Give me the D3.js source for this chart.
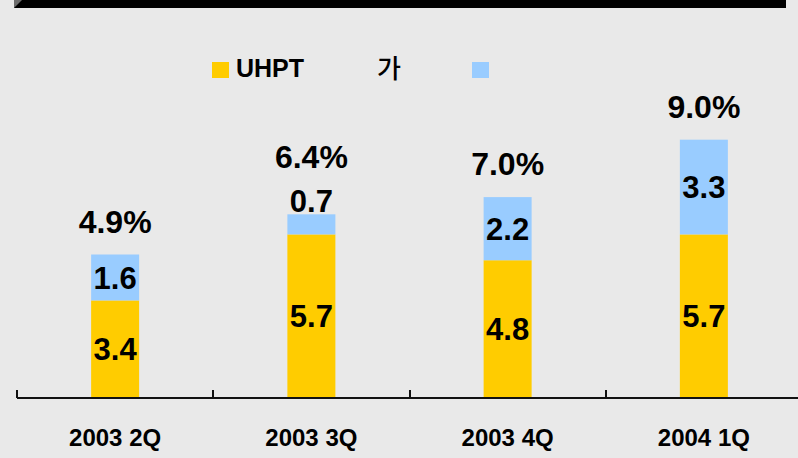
<!DOCTYPE html>
<html>
<head>
<meta charset="utf-8">
<script src="https://cdn.jsdelivr.net/npm/d3@7/dist/d3.min.js"></script>
<style>
  html, body { margin: 0; padding: 0; background: #e9e9e9; }
  svg { display: block; }
</style>
</head>
<body>
<script>
// ---- data ----
const categories = ["2003 2Q", "2003 3Q", "2003 4Q", "2004 1Q"];
const uhptValues = [3.4, 5.7, 4.8, 5.7];
const otherValues = [1.6, 0.7, 2.2, 3.3];
const totalLabels = ["4.9%", "6.4%", "7.0%", "9.0%"];
const seriesNames = ["UHPT", "가"];
const seriesColors = ["#ffcc00", "#99ccff"];

const W = 798, H = 458;
const svg = d3.select("body").append("svg").attr("width", W).attr("height", H);

svg.append("rect").attr("width", W).attr("height", H).attr("fill", "#e9e9e9");

// top black band
svg.append("rect").attr("x", 14).attr("y", 0).attr("width", 772).attr("height", 8).attr("fill", "#000");
svg.append("path").attr("d", "M14,0 L22,0 L14,8 Z").attr("fill", "#6e6e6e");

const baseY = 398;
const x = d3.scaleBand().domain(categories).range([17, 802]).padding(0);
const y = d3.scaleLinear().domain([0, 10]).range([baseY, 111]);
const barW = 48;

const stackData = categories.map((c, i) => ({ cat: c, uhpt: uhptValues[i], other: otherValues[i], total: totalLabels[i] }));
const stack = d3.stack().keys(["uhpt", "other"])(stackData);

const font = "'Liberation Sans', Arial, sans-serif";

// bars
stack.forEach((layer, li) => {
  svg.append("g").selectAll("rect").data(layer).join("rect")
    .attr("x", d => x(d.data.cat) + x.bandwidth() / 2 - barW / 2)
    .attr("y", d => y(d[1]))
    .attr("width", barW)
    .attr("height", d => y(d[0]) - y(d[1]))
    .attr("fill", seriesColors[li]);
});

// segment labels & totals
const fs = 31;
stackData.forEach((d, i) => {
  const cx = x(d.cat) + x.bandwidth() / 2;
  let topMost = y(d.uhpt + d.other);
  stack.forEach((layer, li) => {
    const s = layer[i];
    const y0 = y(s[0]), y1 = y(s[1]);
    const h = y0 - y1;
    let base;
    if (h >= 30) {
      base = (y0 + y1) / 2 + fs * 0.36;
    } else {
      base = y1 - 2;
      topMost = Math.min(topMost, base - fs * 0.72);
    }
    svg.append("text")
      .attr("x", cx).attr("y", base)
      .attr("text-anchor", "middle")
      .attr("font-family", font).attr("font-weight", "bold").attr("font-size", fs)
      .attr("fill", "#000")
      .text((s[1] - s[0]).toFixed(1));
  });
  svg.append("text")
    .attr("x", cx).attr("y", topMost - 22)
    .attr("text-anchor", "middle")
    .attr("font-family", font).attr("font-weight", "bold").attr("font-size", 32)
    .attr("fill", "#000")
    .text(d.total);
});

// axis
const axis = svg.append("g");
axis.append("line").attr("x1", 17).attr("x2", W).attr("y1", baseY).attr("y2", baseY)
  .attr("stroke", "#111").attr("stroke-width", 2);
axis.selectAll(".tick").data(categories).join("line")
  .attr("x1", d => Math.round(x(d))).attr("x2", d => Math.round(x(d)))
  .attr("y1", baseY - 8).attr("y2", baseY)
  .attr("stroke", "#111").attr("stroke-width", 2);
axis.selectAll(".lbl").data(categories).join("text")
  .attr("x", d => x(d) + x.bandwidth() / 2)
  .attr("y", 446)
  .attr("text-anchor", "middle")
  .attr("font-family", font).attr("font-weight", "bold").attr("font-size", 24)
  .attr("fill", "#000")
  .text(d => d);

// legend
const lg = svg.append("g");
lg.append("rect").attr("x", 212).attr("y", 62).attr("width", 17).attr("height", 16).attr("fill", seriesColors[0]);
lg.append("text").attr("x", 236).attr("y", 77)
  .attr("font-family", font).attr("font-weight", "bold").attr("font-size", 25).attr("fill", "#000")
  .text(seriesNames[0]);
lg.append("text").attr("x", 377).attr("y", 78)
  .attr("font-family", "'Noto Sans CJK KR', sans-serif").attr("font-weight", 500).attr("font-size", 26).attr("fill", "#000")
  .text(seriesNames[1]);
lg.append("rect").attr("x", 472).attr("y", 62).attr("width", 17).attr("height", 16).attr("fill", seriesColors[1]);
</script>
</body>
</html>
